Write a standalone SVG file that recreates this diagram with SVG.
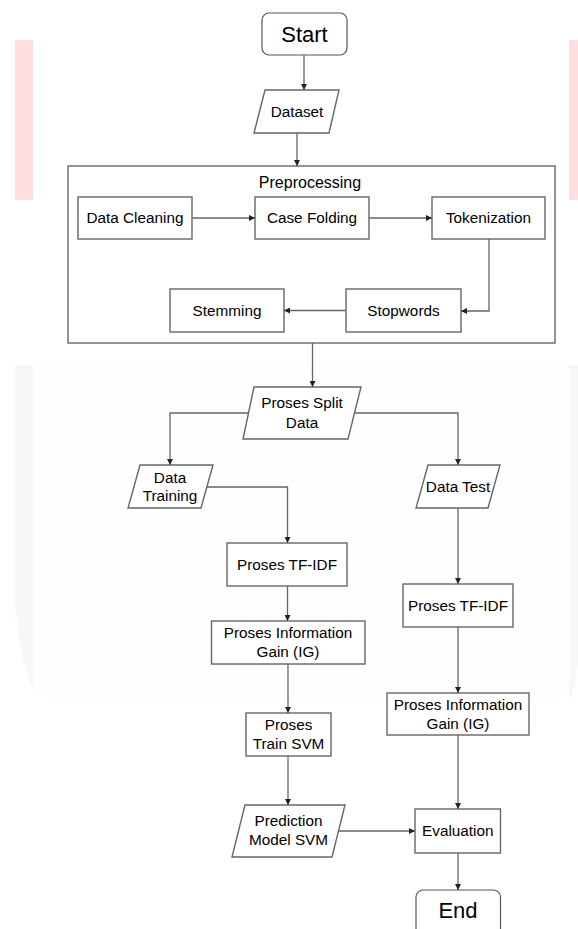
<svg xmlns="http://www.w3.org/2000/svg" width="578" height="929" viewBox="0 0 578 929">
<defs>
<marker id="ah" viewBox="0 0 10 10" refX="10" refY="5" markerWidth="6" markerHeight="6" markerUnits="userSpaceOnUse" orient="auto">
<path d="M0,0 L10,5 L0,10 Z" fill="#222"/>
</marker>
<style>
.box{fill:#fff;stroke:#666;stroke-width:1.4}
.term{fill:#fff;stroke:#555;stroke-width:1.2}
.t{font-family:"Liberation Sans",Arial,sans-serif;font-size:15.3px;fill:#000;text-anchor:middle}
.big{font-size:22px}
.hdr{font-size:16px}
.c{fill:none;stroke:#666;stroke-width:1.3;marker-end:url(#ah)}
</style>
</defs>
<rect width="578" height="929" fill="#fff"/>
<g id="background">
<rect x="15" y="40" width="18" height="160" fill="#ffdde1"/>
<rect x="569" y="40" width="9" height="160" fill="#ffdde1"/>
<path d="M15,365 H578 V650 Q578,700 545,700 H60 Q20,700 15,620 Z" fill="#fefefe"/>
<path d="M15,365 H33 V690 Q20,660 15,600 Z" fill="#f7f7f7"/>
<path d="M569,365 H578 V660 Q576,690 569,700 Z" fill="#f7f7f7"/>
</g>
<g id="start">
<rect class="term" x="262" y="13" width="85" height="42" rx="7"/>
<text class="t big" x="304.5" y="42">Start</text>
</g>
<g id="dataset">
<polygon class="box" points="265,90 339,90 329,133 254,133"/>
<text class="t" x="297" y="117">Dataset</text>
</g>
<g id="preprocessing">
<rect class="box" x="68" y="166" width="487" height="177"/>
<text class="t hdr" x="310" y="188">Preprocessing</text>
</g>
<g id="data-cleaning">
<rect class="box" x="78" y="197" width="114" height="42"/>
<text class="t" x="135" y="223">Data Cleaning</text>
</g>
<g id="case-folding">
<rect class="box" x="255" y="197" width="114" height="42"/>
<text class="t" x="312" y="223">Case Folding</text>
</g>
<g id="tokenization">
<rect class="box" x="432" y="197" width="113" height="42"/>
<text class="t" x="488.5" y="223">Tokenization</text>
</g>
<g id="stopwords">
<rect class="box" x="346" y="289" width="115" height="43"/>
<text class="t" x="403.5" y="315.5">Stopwords</text>
</g>
<g id="stemming">
<rect class="box" x="170" y="289" width="114" height="43"/>
<text class="t" x="227" y="315.5">Stemming</text>
</g>
<g id="split-data">
<polygon class="box" points="254,387 361,387 348,439 243,439"/>
<text class="t" x="302" y="408">Proses Split</text>
<text class="t" x="302" y="428">Data</text>
</g>
<g id="data-training">
<polygon class="box" points="140,465 213,465 201,508 128,508"/>
<text class="t" x="170" y="483">Data</text>
<text class="t" x="170" y="501">Training</text>
</g>
<g id="data-test">
<polygon class="box" points="428,465 500,465 488,508 416,508"/>
<text class="t" x="458" y="492">Data Test</text>
</g>
<g id="tfidf-train">
<rect class="box" x="227" y="543" width="120" height="43"/>
<text class="t" x="287" y="570">Proses TF-IDF</text>
</g>
<g id="ig-train">
<rect class="box" x="211.5" y="621" width="153.5" height="43"/>
<text class="t" x="288" y="638">Proses Information</text>
<text class="t" x="288" y="657">Gain (IG)</text>
</g>
<g id="train-svm">
<rect class="box" x="246" y="713" width="85" height="43"/>
<text class="t" x="288.5" y="730">Proses</text>
<text class="t" x="288.5" y="749">Train SVM</text>
</g>
<g id="prediction">
<polygon class="box" points="245,805 345,805 332,857 232,857"/>
<text class="t" x="288.5" y="826">Prediction</text>
<text class="t" x="288.5" y="845">Model SVM</text>
</g>
<g id="tfidf-test">
<rect class="box" x="403" y="584" width="110" height="43"/>
<text class="t" x="458" y="611">Proses TF-IDF</text>
</g>
<g id="ig-test">
<rect class="box" x="387" y="693" width="142" height="42"/>
<text class="t" x="458" y="710">Proses Information</text>
<text class="t" x="458" y="729">Gain (IG)</text>
</g>
<g id="evaluation">
<rect class="box" x="415" y="809" width="85.5" height="44"/>
<text class="t" x="457.75" y="836">Evaluation</text>
</g>
<g id="end">
<rect class="term" x="416" y="890" width="84.5" height="50" rx="7"/>
<text class="t big" x="458" y="918">End</text>
</g>
<g id="connectors">
<path class="c" d="M304,55 V90"/>
<path class="c" d="M297,133 V166"/>
<path class="c" d="M192,218 H255"/>
<path class="c" d="M369,218 H432"/>
<path class="c" d="M489,239 V311 H461"/>
<path class="c" d="M346,310.5 H284"/>
<path class="c" d="M312.5,343 V387"/>
<path class="c" d="M248.5,413 H170 V465"/>
<path class="c" d="M354.5,413 H458 V465"/>
<path class="c" d="M207,487 H287.5 V543"/>
<path class="c" d="M458,508 V584"/>
<path class="c" d="M287.5,586 V621"/>
<path class="c" d="M458,627 V693"/>
<path class="c" d="M288,664 V713"/>
<path class="c" d="M288,756 V805"/>
<path class="c" d="M458,735 V809"/>
<path class="c" d="M338.5,831 H415"/>
<path class="c" d="M458,853 V890"/>
</g>
</svg>
